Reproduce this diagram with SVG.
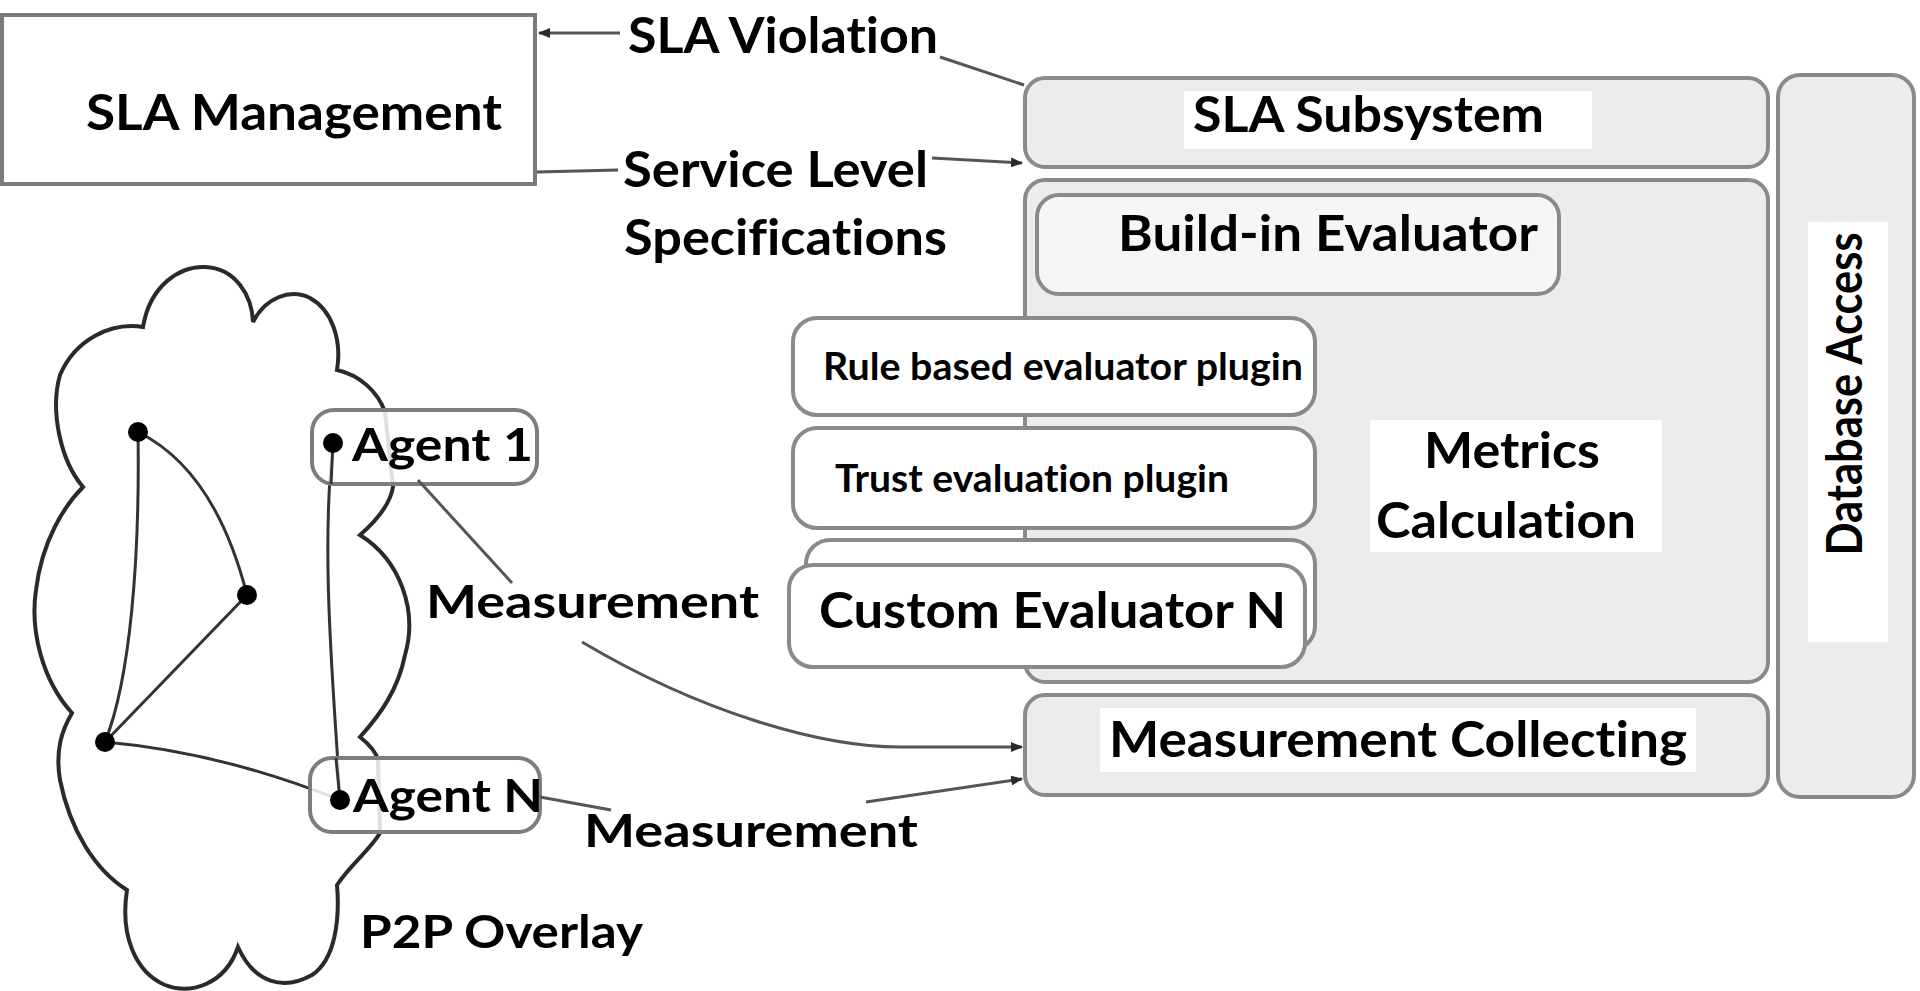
<svg xmlns="http://www.w3.org/2000/svg" width="1920" height="991" viewBox="0 0 1920 991">
  <style>
    .lbl { font-family: Lato, "Open Sans", "Liberation Sans", sans-serif; font-weight: bold; fill: #000; font-variant-ligatures: none; font-feature-settings: "liga" 0, "dlig" 0; }
    .big { font-size: 49px; }
    .mid { font-size: 46px; }
    .sm { font-size: 38px; }
    .panel { fill: #ececec; stroke: #8a8a8a; stroke-width: 4; }
    .card { fill: #ffffff; stroke: #8a8a8a; stroke-width: 4; }
    .patch { fill: #ffffff; stroke: none; }
    .wire { fill: none; stroke: #555555; stroke-width: 3; }
    .net { fill: none; stroke: #333333; stroke-width: 3; }
    .cloud { fill: #ffffff; stroke: #2a2a2a; stroke-width: 4; }
    .dot { fill: #000000; }
  </style>
  <defs>
    <marker id="arrow" viewBox="0 0 12 10" refX="11" refY="5" markerWidth="12" markerHeight="10" markerUnits="userSpaceOnUse" orient="auto">
      <path d="M0,0 L12,5 L0,10 Z" fill="#2a2a2a"/>
    </marker>
  </defs>

  <rect width="1920" height="991" fill="#ffffff"/>

  <!-- SLA management block -->
  <g id="sla-management">
    <rect x="2" y="15" width="533" height="169" fill="#ffffff" stroke="#7a7a7a" stroke-width="4"/>
    <text class="lbl big" x="86" y="130" textLength="416" lengthAdjust="spacingAndGlyphs">SLA Management</text>
  </g>

  <!-- Database access column -->
  <g id="database-access">
    <rect class="panel" x="1778" y="75" width="136" height="722" rx="22"/>
    <rect class="patch" x="1808" y="222" width="80" height="420"/>
    <text class="lbl big" transform="translate(1862,394) rotate(-90)" x="0" y="0" text-anchor="middle" textLength="323" lengthAdjust="spacingAndGlyphs">Database Access</text>
  </g>

  <!-- SLA subsystem -->
  <g id="sla-subsystem">
    <rect class="panel" x="1025" y="78" width="743" height="89" rx="20"/>
    <rect class="patch" x="1184" y="91" width="408" height="58"/>
    <text class="lbl big" x="1193" y="132" textLength="351" lengthAdjust="spacingAndGlyphs">SLA Subsystem</text>
  </g>

  <!-- Metrics calculation container -->
  <g id="metrics-calculation">
    <rect class="panel" x="1025" y="180" width="743" height="502" rx="20"/>
    <rect class="patch" x="1370" y="420" width="292" height="132"/>
    <text class="lbl big" x="1424" y="468" textLength="176" lengthAdjust="spacingAndGlyphs">Metrics</text>
    <text class="lbl big" x="1376" y="538" textLength="260" lengthAdjust="spacingAndGlyphs">Calculation</text>
  </g>

  <g id="build-in-evaluator">
    <rect x="1037" y="195" width="522" height="99" rx="22" fill="#f6f6f6" stroke="#8a8a8a" stroke-width="4"/>
    <text class="lbl big" x="1118" y="251" textLength="420" lengthAdjust="spacingAndGlyphs">Build-in Evaluator</text>
  </g>

  <g id="rule-based-plugin">
    <rect class="card" x="793" y="318" width="522" height="97" rx="24"/>
    <text class="lbl sm" x="823" y="380" textLength="480" lengthAdjust="spacingAndGlyphs">Rule based evaluator plugin</text>
  </g>

  <g id="trust-plugin">
    <rect class="card" x="793" y="428" width="522" height="100" rx="24"/>
    <text class="lbl sm" x="835" y="492" textLength="394" lengthAdjust="spacingAndGlyphs">Trust evaluation plugin</text>
  </g>

  <g id="custom-evaluator">
    <rect class="card" x="806" y="540" width="509" height="110" rx="24"/>
    <rect class="card" x="789" y="565" width="516" height="102" rx="24"/>
    <text class="lbl big" x="819" y="628" textLength="467" lengthAdjust="spacingAndGlyphs">Custom Evaluator N</text>
  </g>

  <!-- Measurement collecting -->
  <g id="measurement-collecting">
    <rect class="panel" x="1025" y="695" width="743" height="100" rx="20"/>
    <rect class="patch" x="1100" y="708" width="596" height="64"/>
    <text class="lbl big" x="1109" y="757" textLength="578" lengthAdjust="spacingAndGlyphs">Measurement Collecting</text>
  </g>

  <!-- P2P overlay cloud -->
  <g id="p2p-overlay">
    <path class="cloud" d="M143,327 C150,285 180,266 205,267 C235,268 252,295 253,322 C265,298 290,288 310,298 C332,310 342,340 337,370 C360,375 378,392 385,412 L393,487 C390,505 375,522 360,535 C400,560 418,610 405,655 C398,690 380,715 360,737 C370,745 376,752 378,760 L380,833 C370,850 350,865 337,885 C340,920 335,960 312,975 C285,990 255,985 238,947 C225,985 190,995 165,985 C135,972 120,935 127,890 C95,870 70,830 60,780 C55,750 62,730 72,713 C42,680 30,630 36,590 C42,540 65,505 83,487 C60,460 50,410 60,375 C75,340 110,322 143,327 Z"/>
    <text class="lbl mid" x="360" y="948" textLength="283" lengthAdjust="spacingAndGlyphs">P2P Overlay</text>
  </g>

  <!-- overlay links and peers -->
  <g id="overlay-links">
    <path class="net" d="M138,432 C140,560 130,680 105,742"/>
    <path class="net" d="M138,432 Q215,470 247,595"/>
    <path class="net" d="M247,595 L105,742"/>
    <path class="net" d="M105,742 Q220,752 340,800"/>
    <path class="net" d="M333,443 C320,560 335,700 340,800"/>
  </g>

  <g id="peers">
    <circle class="dot" cx="138" cy="432" r="10"/>
    <circle class="dot" cx="247" cy="595" r="10"/>
    <circle class="dot" cx="105" cy="742" r="10"/>
  </g>

  <g id="agent-1">
    <rect x="312" y="410" width="225" height="74" rx="22" fill="#ffffff" fill-opacity="0.85" stroke="#7d7d7d" stroke-width="4"/>
    <path class="net" d="M333,443 L331,484"/>
    <circle class="dot" cx="333" cy="443" r="10"/>
    <text class="lbl mid" x="352" y="461" textLength="181" lengthAdjust="spacingAndGlyphs">Agent 1</text>
  </g>

  <g id="agent-n">
    <rect x="310" y="758" width="230" height="74" rx="22" fill="#ffffff" fill-opacity="0.85" stroke="#7d7d7d" stroke-width="4"/>
    <path class="net" d="M336,758 L340,800"/>
    <circle class="dot" cx="340" cy="800" r="10"/>
    <text class="lbl mid" x="353" y="812" textLength="190" lengthAdjust="spacingAndGlyphs">Agent N</text>
  </g>

  <!-- connectors between blocks -->
  <g id="connectors">
    <path class="wire" d="M620,33 L539,33" marker-end="url(#arrow)"/>
    <path class="wire" d="M1024,85 L940,57"/>
    <path class="wire" d="M537,172 L618,170"/>
    <path class="wire" d="M932,158 L1022,163" marker-end="url(#arrow)"/>
    <path class="wire" d="M418,480 L512,583"/>
    <path class="wire" d="M582,642 C700,712 820,747 900,747 L1022,747" marker-end="url(#arrow)"/>
    <path class="wire" d="M540,797 L611,810"/>
    <path class="wire" d="M866,802 L1022,779" marker-end="url(#arrow)"/>
  </g>

  <!-- connector labels -->
  <g id="connector-labels">
    <text class="lbl big" x="628" y="53" textLength="310" lengthAdjust="spacingAndGlyphs">SLA Violation</text>
    <text class="lbl big" x="623" y="187" textLength="305" lengthAdjust="spacingAndGlyphs">Service Level</text>
    <text class="lbl big" x="624" y="255" textLength="323" lengthAdjust="spacingAndGlyphs">Specifications</text>
    <text class="lbl mid" x="426" y="618" textLength="333" lengthAdjust="spacingAndGlyphs">Measurement</text>
    <text class="lbl mid" x="584" y="847" textLength="334" lengthAdjust="spacingAndGlyphs">Measurement</text>
  </g>
</svg>
